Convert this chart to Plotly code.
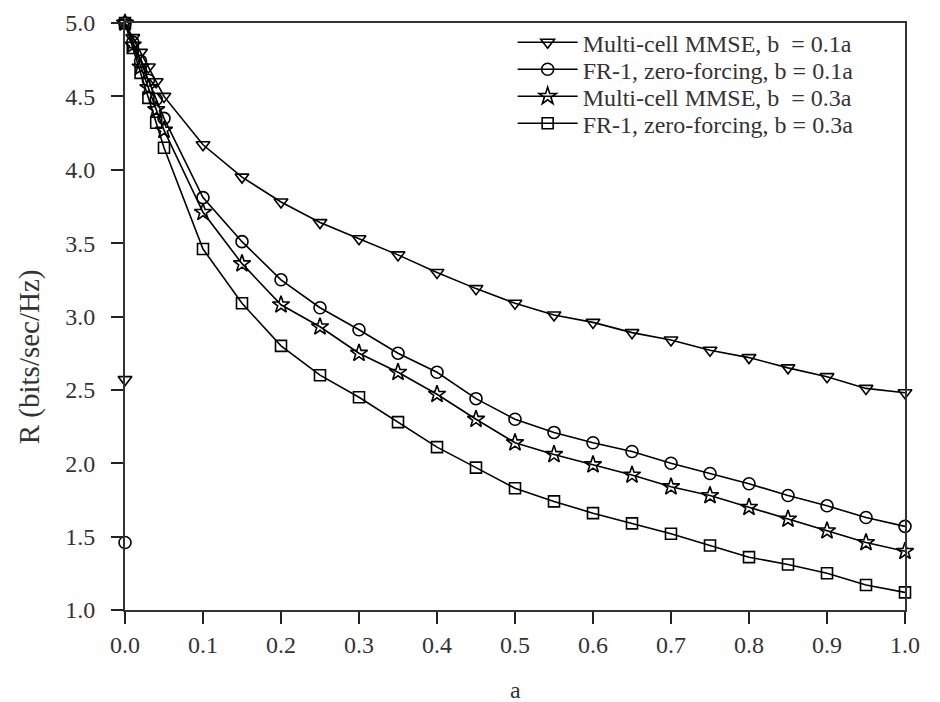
import plotly.graph_objects as go

a = [0.0, 0.01, 0.02, 0.03, 0.04, 0.05, 0.1, 0.15, 0.2, 0.25, 0.3, 0.35, 0.4, 0.45, 0.5,
     0.55, 0.6, 0.65, 0.7, 0.75, 0.8, 0.85, 0.9, 0.95, 1.0]

mmse_b01 = [5.0, 4.90, 4.80, 4.70, 4.60, 4.50, 4.17, 3.95, 3.78, 3.64, 3.53, 3.42, 3.30, 3.19, 3.09,
            3.01, 2.96, 2.89, 2.84, 2.77, 2.72, 2.65, 2.59, 2.51, 2.48]
zf_b01 = [5.0, 4.87, 4.74, 4.61, 4.48, 4.35, 3.81, 3.51, 3.25, 3.06, 2.91, 2.75, 2.62, 2.44, 2.30,
          2.21, 2.14, 2.08, 2.00, 1.93, 1.86, 1.78, 1.71, 1.63, 1.57]
mmse_b03 = [5.0, 4.85, 4.70, 4.56, 4.41, 4.27, 3.71, 3.36, 3.08, 2.93, 2.75, 2.62, 2.47, 2.30, 2.14,
            2.06, 1.99, 1.92, 1.84, 1.78, 1.70, 1.62, 1.54, 1.46, 1.40]
zf_b03 = [5.0, 4.83, 4.66, 4.49, 4.32, 4.15, 3.46, 3.09, 2.80, 2.60, 2.45, 2.28, 2.11, 1.97, 1.83,
          1.74, 1.66, 1.59, 1.52, 1.44, 1.36, 1.31, 1.25, 1.17, 1.12]

# isolated markers drawn on the y axis at a = 0
iso_a = [0.0]
iso_mmse_b01 = [2.57]
iso_zf_b01 = [1.46]

names = ["Multi-cell MMSE, b\u00a0\u00a0= 0.1a",
         "FR-1, zero-forcing, b = 0.1a",
         "Multi-cell MMSE, b\u00a0\u00a0= 0.3a",
         "FR-1, zero-forcing, b = 0.3a"]
symbols = ["triangle-down-open", "circle-open", "star-open", "square-open"]
sizes = [12, 12, 13, 11]
series = [mmse_b01, zf_b01, mmse_b03, zf_b03]
legend_ids = ["legend", "legend2", "legend3", "legend4"]

font = "Liberation Serif, Times New Roman, serif"

fig = go.Figure()
for nm, sym, sz, ys, lg in zip(names, symbols, sizes, series, legend_ids):
    fig.add_trace(go.Scatter(
        x=a, y=ys, name=nm, mode="lines+markers", legend=lg,
        line=dict(color="black", width=1.6),
        marker=dict(symbol=sym, size=sz, color="black", line=dict(width=1.6, color="black")),
        cliponaxis=False,
    ))

fig.add_trace(go.Scatter(x=iso_a, y=iso_mmse_b01, mode="markers", showlegend=False,
                         marker=dict(symbol="triangle-down-open", size=12, color="black",
                                     line=dict(width=1.6)), cliponaxis=False))
fig.add_trace(go.Scatter(x=iso_a, y=iso_zf_b01, mode="markers", showlegend=False,
                         marker=dict(symbol="circle-open", size=12, color="black",
                                     line=dict(width=1.6)), cliponaxis=False))

# legend rows placed one per legend so the row spacing can follow the reference
leg_y = [0.9665, 0.9205, 0.8745, 0.8285]
leg_common = dict(x=0.497, xanchor="left", yanchor="middle",
                  bgcolor="rgba(255,255,255,0)", borderwidth=0,
                  font=dict(family=font, size=24, color="#333"), itemwidth=60)
legend_layout = {lg: dict(y=yy, **leg_common) for lg, yy in zip(legend_ids, leg_y)}

fig.update_layout(
    width=940, height=702,
    margin=dict(l=117, r=43, t=15, b=100, autoexpand=False),
    paper_bgcolor="white", plot_bgcolor="white",
    font=dict(family=font, size=22, color="#333"),
    showlegend=True,
    xaxis=dict(
        range=[0, 1], tickvals=[0, 0.1, 0.2, 0.3, 0.4, 0.5, 0.6, 0.7, 0.8, 0.9, 1.0],
        ticktext=["0.0", "0.1", "0.2", "0.3", "0.4", "0.5", "0.6", "0.7", "0.8", "0.9", "1.0"],
        ticks="outside", ticklen=12, tickwidth=1.5, tickcolor="#222",
        showline=True, linecolor="#333", linewidth=2, mirror=True,
        showgrid=False, zeroline=False, ticklabelstandoff=0, automargin=False,
        tickfont=dict(family=font, size=24),
    ),
    yaxis=dict(
        range=[1, 5], tickvals=[1.0, 1.5, 2.0, 2.5, 3.0, 3.5, 4.0, 4.5, 5.0],
        ticktext=["1.0", "1.5", "2.0", "2.5", "3.0", "3.5", "4.0", "4.5", "5.0"],
        ticks="outside", ticklen=12, tickwidth=1.5, tickcolor="#222",
        showline=True, linecolor="#333", linewidth=2, mirror=True,
        showgrid=False, zeroline=False, ticklabelstandoff=11, automargin=False,
        tickfont=dict(family=font, size=24),
    ),
    annotations=[
        dict(text="R (bits/sec/Hz)", xref="paper", yref="paper",
             x=-0.122, y=0.432, xanchor="center", yanchor="middle",
             textangle=-90, showarrow=False,
             font=dict(family=font, size=29, color="#333")),
        dict(text="a", xref="paper", yref="paper",
             x=0.5, y=-0.1363, xanchor="center", yanchor="middle",
             showarrow=False, font=dict(family=font, size=24, color="#333")),
    ],
    **legend_layout,
)

fig.write_html("out.html")
